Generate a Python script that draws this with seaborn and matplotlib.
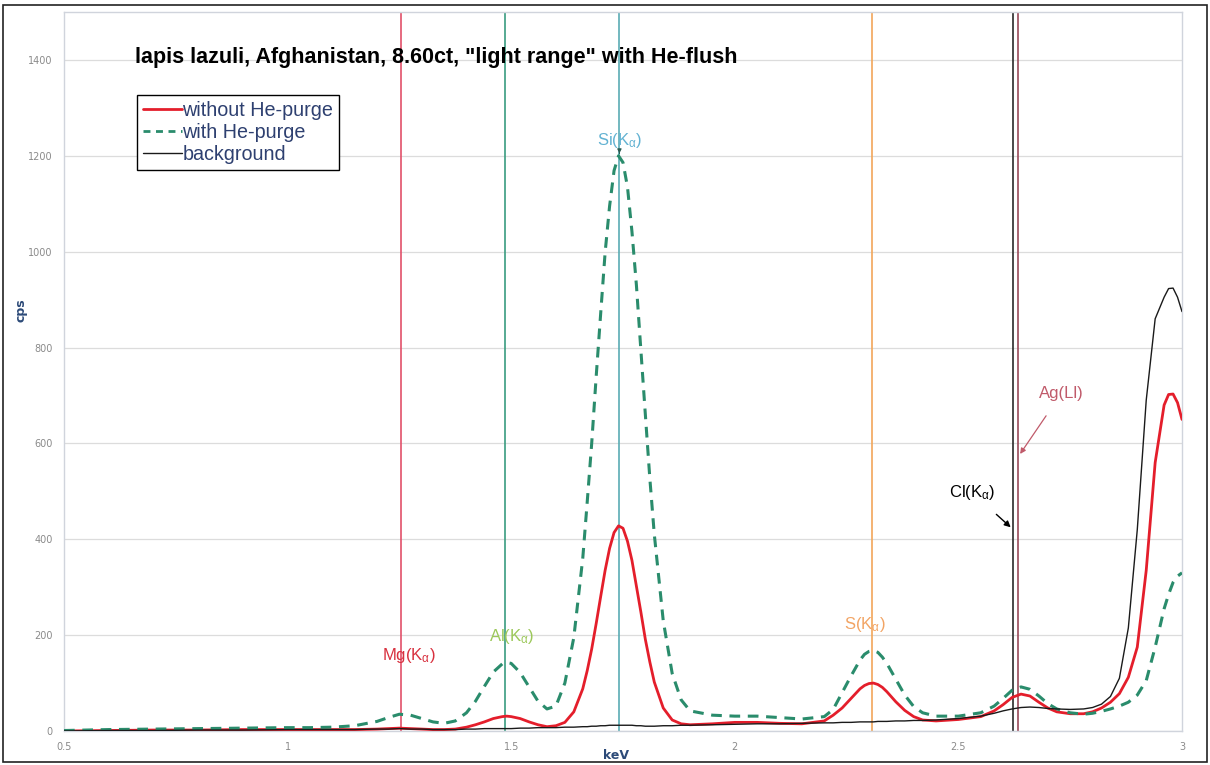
import numpy as np
import pandas as pd
import matplotlib
matplotlib.use("Agg")
import matplotlib.pyplot as plt
import seaborn as sns
from matplotlib.lines import Line2D
from matplotlib.patches import Rectangle

# ---------------- data ----------------
kev = [0.5, 0.6, 0.7, 0.8, 0.9, 1.0, 1.05, 1.1, 1.15, 1.2,
       1.225, 1.25, 1.275, 1.3, 1.325, 1.35, 1.375, 1.4,
       1.42, 1.44, 1.46, 1.48, 1.49, 1.50,
       1.52, 1.54, 1.56, 1.58, 1.60, 1.62, 1.64, 1.66, 1.67, 1.68, 1.69, 1.70,
       1.71, 1.72, 1.73, 1.74, 1.75, 1.76, 1.77, 1.78, 1.79, 1.80, 1.81, 1.82,
       1.84, 1.86, 1.88, 1.90,
       1.95, 2.0, 2.05, 2.1, 2.15, 2.2,
       2.22, 2.24, 2.26, 2.28, 2.29, 2.30, 2.31,
       2.32, 2.33, 2.34, 2.36, 2.38, 2.40, 2.42,
       2.45, 2.5, 2.55,
       2.58, 2.60, 2.62, 2.64, 2.66, 2.68, 2.70, 2.72,
       2.75, 2.78,
       2.80, 2.82, 2.84, 2.86, 2.88, 2.90, 2.92, 2.94, 2.96, 2.97, 2.98, 2.99, 3.0]

without_he = [0, 1, 2, 2, 3, 3, 3, 3, 3, 4,
              5, 6, 5, 4, 3, 3, 4, 8,
              13, 19, 26, 30, 31, 30,
              26, 19, 13, 9, 11, 18, 40, 88, 126, 171, 224, 280,
              335, 381, 414, 428, 423, 396, 356, 302, 248, 191, 144, 102,
              48, 23, 15, 13,
              15, 18, 18, 16, 15, 21,
              33, 48, 68, 88, 95, 99, 100,
              97, 91, 82, 61, 43, 30, 23,
              21, 24, 30,
              42, 55, 70, 77, 73, 60, 48, 40,
              36, 36,
              40, 48, 60, 78, 112, 175, 335, 560, 680, 702, 703, 685, 650]

with_he = [1, 3, 4, 5, 6, 7, 7, 8, 11, 20,
           28, 35, 33, 26, 19, 16, 21, 38,
           62, 93, 123, 140, 143, 141,
           122, 92, 62, 46, 52, 100, 195, 360, 478, 600, 739, 870,
           998, 1095, 1169, 1200, 1186, 1135, 1042, 930, 794, 660, 527, 410,
           230, 120, 65, 42,
           33, 31, 31, 28, 25, 30,
           45, 80, 115, 148, 160, 166, 168,
           164, 154, 141, 108, 75, 51, 38,
           31, 31, 38,
           52, 68, 85, 92, 87, 73, 57, 46,
           38, 35,
           37, 41, 46, 52, 60, 75, 105, 175, 255, 285, 310, 323, 330]

background = [0, 1, 1, 2, 2, 3, 3, 3, 3, 4,
              4, 5, 4, 4, 3, 3, 3, 4,
              4, 5, 5, 5, 5, 5,
              6, 6, 7, 7, 7, 8, 8, 9, 9, 10, 10, 11,
              11, 12, 12, 12, 12, 12, 12, 11, 11, 10, 10, 10,
              11, 11, 12, 12,
              13, 14, 15, 15, 16, 17,
              17, 18, 18, 19, 19, 19, 19,
              20, 20, 20, 21, 21, 22, 22,
              23, 26, 31,
              37, 42, 46, 49, 50, 49, 47, 46,
              45, 46,
              49, 56, 72, 110, 215, 420, 690, 860, 905, 923, 924, 905, 875]

series_names = ["without He-purge", "with He-purge", "background"]

elements = ["Mg", "Al", "Si", "S", "Cl", "Ag"]
element_kev = [1.254, 1.487, 1.740, 2.307, 2.622, 2.634]
element_labels = ["Mg(K$_\\mathrm{\\alpha}$)", "Al(K$_\\mathrm{\\alpha}$)",
                  "Si(K$_\\mathrm{\\alpha}$)", "S(K$_\\mathrm{\\alpha}$)",
                  "Cl(K$_\\mathrm{\\alpha}$)", "Ag(Ll)"]

x_ticks = [0.5, 1, 1.5, 2, 2.5, 3]
x_tick_labels = ["0.5", "1", "1.5", "2", "2.5", "3"]
y_ticks = [0, 200, 400, 600, 800, 1000, 1200, 1400]

title = 'lapis lazuli, Afghanistan, 8.60ct, "light range" with He-flush'

# ---------------- styling ----------------
sns.set_style("white")
plt.rcParams["font.family"] = ["Liberation Sans", "DejaVu Sans"]
plt.rcParams["mathtext.fontset"] = "custom"
plt.rcParams["mathtext.rm"] = "Liberation Sans"
plt.rcParams["mathtext.default"] = "regular"

df = pd.DataFrame({
    "keV": kev * 3,
    "cps": without_he + with_he + background,
    "series": ([series_names[0]] * len(kev) + [series_names[1]] * len(kev)
               + [series_names[2]] * len(kev)),
})

fig = plt.figure(figsize=(12.1, 7.65), dpi=100)
ax = fig.add_axes([64 / 1210, 1 - 731 / 765, (1182 - 64) / 1210, (731 - 12) / 765])

vline_colors = ["#e2506a", "#3a9c80", "#5aacb4", "#f2a65a", "#2a2a2a", "#9a4a5a"]
for e, c in zip(element_kev, vline_colors):
    ax.axvline(e, color=c, lw=1.2, zorder=1)

palette = {series_names[0]: "#e41e2b", series_names[1]: "#2a8c6c",
           series_names[2]: "#1a1a1a"}
sns.lineplot(data=df[df.series == series_names[0]], x="keV", y="cps",
             color=palette[series_names[0]], lw=2.0, ax=ax, zorder=3,
             estimator=None, sort=False)
sns.lineplot(data=df[df.series == series_names[1]], x="keV", y="cps",
             color=palette[series_names[1]], lw=2.2, ax=ax, zorder=4,
             estimator=None, sort=False)
ax.lines[-1].set_dashes([3.5, 2.5])
sns.lineplot(data=df[df.series == series_names[2]], x="keV", y="cps",
             color=palette[series_names[2]], lw=1.0, ax=ax, zorder=5,
             estimator=None, sort=False)

ax.set_xlim(0.5, 3.0)
ax.set_ylim(0, 1500)
ax.set_xticks(x_ticks)
ax.set_xticklabels(x_tick_labels)
ax.set_yticks(y_ticks)
ax.tick_params(axis="both", labelsize=7, colors="#8a8a8a", length=0, pad=8)
for lab in ax.get_xticklabels() + ax.get_yticklabels():
    lab.set_family(["DejaVu Sans"])
ax.yaxis.grid(True, color="#dcdcdc", lw=0.9)
ax.set_axisbelow(True)
for side in ["left", "right", "top", "bottom"]:
    ax.spines[side].set_color("#d0d4dc")
    ax.spines[side].set_linewidth(1.0)

ax.set_xlabel("keV", fontsize=9, fontweight="bold", color="#2c4a78",
              family=["DejaVu Sans"])
ax.set_ylabel("cps", fontsize=9, fontweight="bold", color="#2c4a78",
              family=["DejaVu Sans"])
ax.xaxis.set_label_coords((616 - 64) / 1118, -(749 - 731) / 719)
ax.yaxis.set_label_coords((27 - 64) / 1118, (731 - 310) / 719)

ax.text((135 - 64) / 1118, (731 - 57) / 719, title, transform=ax.transAxes,
        fontsize=15.5, fontweight="bold", color="black", va="center", ha="left")

# element labels
lab_fs = 12
ax.text(1.27, 157, element_labels[0], color="#d8303e", fontsize=lab_fs,
        ha="center", va="center")
ax.text(1.50, 198, element_labels[1], color="#9cc85a", fontsize=lab_fs,
        ha="center", va="center")
ax.annotate(element_labels[2], xy=(1.742, 1205), xytext=(1.742, 1232),
            color="#62b2d2", fontsize=lab_fs, ha="center", va="center",
            arrowprops=dict(arrowstyle="-|>", color="#2a5a50", lw=0.8,
                            mutation_scale=6, shrinkA=6, shrinkB=0))
ax.text(2.29, 222, element_labels[3], color="#f2a464", fontsize=lab_fs,
        ha="center", va="center")
ax.annotate(element_labels[4], xy=(2.617, 425), xytext=(2.53, 498),
            color="black", fontsize=lab_fs, ha="center", va="center",
            arrowprops=dict(arrowstyle="-|>", color="black", lw=1.0,
                            mutation_scale=9, shrinkA=10, shrinkB=0))
ax.annotate(element_labels[5], xy=(2.638, 578), xytext=(2.73, 704),
            color="#c05a6a", fontsize=lab_fs, ha="center", va="center",
            arrowprops=dict(arrowstyle="-|>", color="#c05a6a", lw=0.9,
                            mutation_scale=8, shrinkA=10, shrinkB=0))

# legend
handles = [Line2D([], [], color=palette[series_names[0]], lw=2.0),
           Line2D([], [], color=palette[series_names[1]], lw=2.0, dashes=[2.5, 2]),
           Line2D([], [], color=palette[series_names[2]], lw=1.0)]
leg = ax.legend(handles, series_names, loc="upper left",
                bbox_to_anchor=((137 - 64) / 1118, (731 - 95) / 719),
                frameon=True, fancybox=False, framealpha=1, edgecolor="black",
                handlelength=2.0, handletextpad=0.0,
                borderpad=0.3, labelspacing=0.16, borderaxespad=0,
                prop={"family": ["Liberation Sans", "DejaVu Sans"], "size": 14.2})
leg.get_frame().set_linewidth(1.0)
for t in leg.get_texts():
    t.set_color("#2e4070")

# figure border
fig.patches.append(Rectangle((3 / 1210, 3 / 765), 1204 / 1210, 757 / 765,
                             transform=fig.transFigure, fill=False,
                             edgecolor="#222222", lw=1.2))

fig.savefig("out.png", dpi=100)
